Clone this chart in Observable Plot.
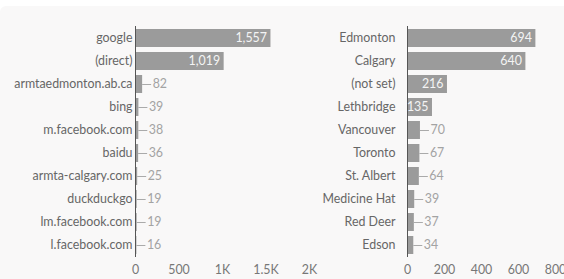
<!DOCTYPE html>
<html>
<head>
<meta charset="utf-8">
<script src="https://cdn.jsdelivr.net/npm/d3@7"></script>
<script src="https://cdn.jsdelivr.net/npm/@observablehq/plot@0.6"></script>
<style>
  html, body { margin: 0; padding: 0; background: #fff; overflow: hidden; }
  #wrap { position: relative; width: 564px; height: 279px; overflow: hidden; }
  #panel { position: absolute; left: 0; top: 6px; width: 572px; height: 290px; background: #f9f8f8; border-radius: 6px; }
  .chart { position: absolute; top: 0; }
  .chart svg { background: transparent; max-width: none !important; font-family: Lato, "Noto Sans", sans-serif; }
</style>
</head>
<body>
<div id="wrap">
  <div id="panel"></div>
  <div id="left" class="chart" style="left:0px;width:330px"></div>
  <div id="right" class="chart" style="left:290px;width:290px"></div>
</div>
<script>
const sources = ["google", "(direct)", "armtaedmonton.ab.ca", "bing", "m.facebook.com", "baidu", "armta-calgary.com", "duckduckgo", "lm.facebook.com", "l.facebook.com"];
const sourceValues = [1557, 1019, 82, 39, 38, 36, 25, 19, 19, 16];
const sourceTicks = [0, 500, 1000, 1500, 2000];

const cities = ["Edmonton", "Calgary", "(not set)", "Lethbridge", "Vancouver", "Toronto", "St. Albert", "Medicine Hat", "Red Deer", "Edson"];
const cityValues = [694, 640, 216, 135, 70, 67, 64, 39, 37, 34];
const cityTicks = [0, 200, 400, 600, 800];

const tickFmt = d => d >= 1000 ? (d / 1000) + "K" : String(d);
const valFmt = d3.format(",");

function panel(names, values, ticks, opts) {
  const data = names.map((n, i) => ({name: n, value: values[i]}));
  const [d0, d1] = [ticks[0], ticks[ticks.length - 1]];
  const pxPer = (opts.width - opts.marginLeft - opts.marginRight) / (d1 - d0);
  const fits = d => d.value * pxPer > valFmt(d.value).length * 6.5 + 4;
  const inside = data.filter(fits);
  const outside = data.filter(d => !fits(d));
  const lead = 9 / pxPer; // leader line length in data units (≈9px)
  return Plot.plot({
    width: opts.width,
    height: 279,
    marginLeft: opts.marginLeft,
    marginRight: opts.marginRight,
    marginTop: 26,
    marginBottom: 22,
    style: {fontFamily: "Lato, 'Noto Sans', sans-serif", fontSize: "12.4px", background: "transparent", color: "#666"},
    x: {domain: [d0, d1], ticks: ticks, tickFormat: tickFmt, label: null},
    y: {domain: names, label: null, paddingInner: 0.22, paddingOuter: 0.11},
    marks: [
      Plot.barX(data, {x: "value", y: "name", fill: "#9b9b9b"}),
      Plot.ruleX([0], {stroke: "#555", strokeWidth: 1}),
      Plot.text(inside, {x: "value", y: "name", text: d => valFmt(d.value), textAnchor: "end", dx: -4, fill: "#f4f4f4", fontSize: 12.4}),
      Plot.ruleY(outside, {y: "name", x1: "value", x2: d => d.value + lead, stroke: "#aaa", strokeWidth: 1}),
      Plot.text(outside, {x: "value", y: "name", text: d => valFmt(d.value), textAnchor: "start", dx: 10, fill: "#a3a3a3", fontSize: 12.4}),
      Plot.axisY({tickSize: 0, tickPadding: opts.labelPad, fontSize: 12.4, fill: "#666"}),
      Plot.axisX({ticks: ticks, tickFormat: tickFmt, tickSize: 0, tickPadding: 8, fontSize: 12.4, fill: "#777"})
    ]
  });
}

document.getElementById("left").appendChild(panel(sources, sourceValues, sourceTicks, {width: 330, marginLeft: 135, marginRight: 21, labelPad: 3}));
document.getElementById("right").appendChild(panel(cities, cityValues, cityTicks, {width: 290, marginLeft: 117, marginRight: 25, labelPad: 12}));
</script>
</body>
</html>
